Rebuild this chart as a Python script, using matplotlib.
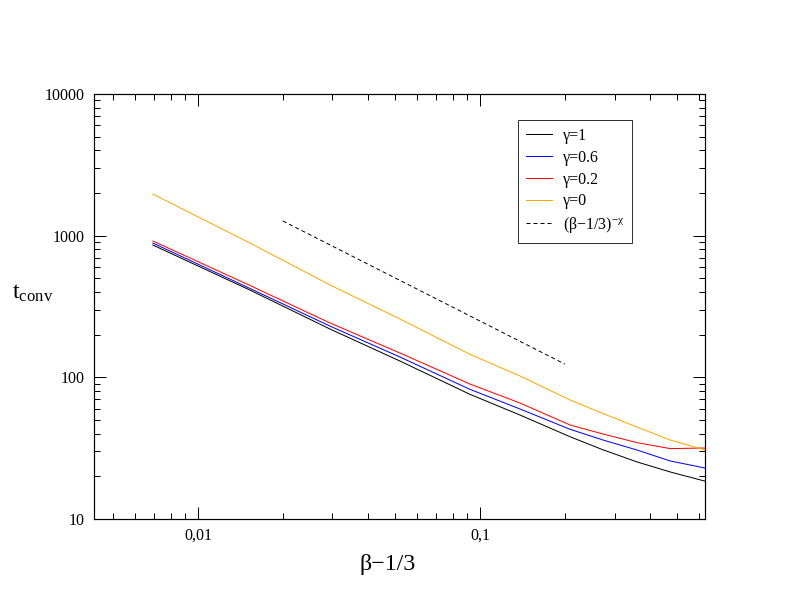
import matplotlib
matplotlib.use('Agg')
import matplotlib.pyplot as plt
from matplotlib.ticker import LogLocator, FixedFormatter, FixedLocator, NullFormatter

plt.rcParams['font.family'] = ['Liberation Serif', 'DejaVu Serif']
plt.rcParams['mathtext.fontset'] = 'custom'
plt.rcParams['mathtext.rm'] = 'Liberation Serif'
plt.rcParams['mathtext.it'] = 'Liberation Serif'
plt.rcParams['mathtext.default'] = 'regular'

# values
x = [0.00692, 0.01529, 0.02938, 0.0520, 0.0921, 0.1386, 0.2085, 0.2730, 0.3602, 0.4720, 0.628]
t_g1 = [859, 413, 219.4, 130.4, 75.9, 54.2, 38.1, 30.8, 25.3, 21.5, 18.5]
t_g06 = [887, 424, 230, 139.2, 82.3, 59.8, 43.0, 36.1, 30.7, 25.7, 22.9]
t_g02 = [917, 445, 242, 148.5, 89.7, 65.9, 46.1, 39.8, 34.6, 31.4, 31.7]
t_g0 = [1968, 887, 449, 258, 145.4, 102.2, 69.2, 55.5, 44.6, 36.1, 30.7]

x_fit = [0.02, 0.2]
t_fit = [1270, 124]

fig = plt.figure(figsize=(11, 8.5), dpi=72)
ax = fig.add_axes([94/792, 93/612, 611/792, 425/612])

ax.plot(x, t_g1, color='black', lw=1, label='γ=1')
ax.plot(x, t_g06, color='#0000ff', lw=1, label='γ=0.6')
ax.plot(x, t_g02, color='#ff0000', lw=1, label='γ=0.2')
ax.plot(x, t_g0, color='#ffa500', lw=1, label='γ=0')
ax.plot(x_fit, t_fit, color='black', lw=1, ls=(0, (4, 3)), label='(β−1/3)$^{−χ}$')

ax.set_xscale('log')
ax.set_yscale('log')
ax.set_xlim(0.00428, 0.628)
ax.set_ylim(10, 10000)

ax.xaxis.set_major_locator(FixedLocator([0.01, 0.1]))
ax.xaxis.set_major_formatter(FixedFormatter(['0,01', '0,1']))
ax.xaxis.set_minor_locator(LogLocator(base=10, subs=range(2, 10)))
ax.xaxis.set_minor_formatter(NullFormatter())
ax.yaxis.set_major_locator(FixedLocator([10, 100, 1000, 10000]))
ax.yaxis.set_major_formatter(FixedFormatter(['10', '100', '1000', '10000']))
ax.yaxis.set_minor_locator(LogLocator(base=10, subs=range(2, 10)))
ax.yaxis.set_minor_formatter(NullFormatter())

ax.tick_params(which='both', direction='in', top=True, right=True, labelsize=16, width=1)
ax.tick_params(which='major', length=12, pad=9)
ax.tick_params(which='minor', length=6)
for s in ax.spines.values():
    s.set_linewidth(1.2)

ax.set_xlabel('β−1/3', fontsize=24, va='center')
ax.xaxis.set_label_coords(0.481, -0.108)
ax.set_ylabel('t$_{conv}$', fontsize=24, rotation=0, va='center', ha='center')
ax.yaxis.set_label_coords(-0.101, 0.532)

leg = ax.legend(loc='upper left', bbox_to_anchor=(518/792, 1 - 120/612), bbox_transform=fig.transFigure,
                fontsize=16, frameon=True, fancybox=False, handlelength=1.6, handletextpad=0.7,
                labelspacing=0.36, borderpad=0.5, borderaxespad=0)
leg.get_frame().set_edgecolor('black')
leg.get_frame().set_linewidth(1)

fig.savefig('out.png', dpi=72)
